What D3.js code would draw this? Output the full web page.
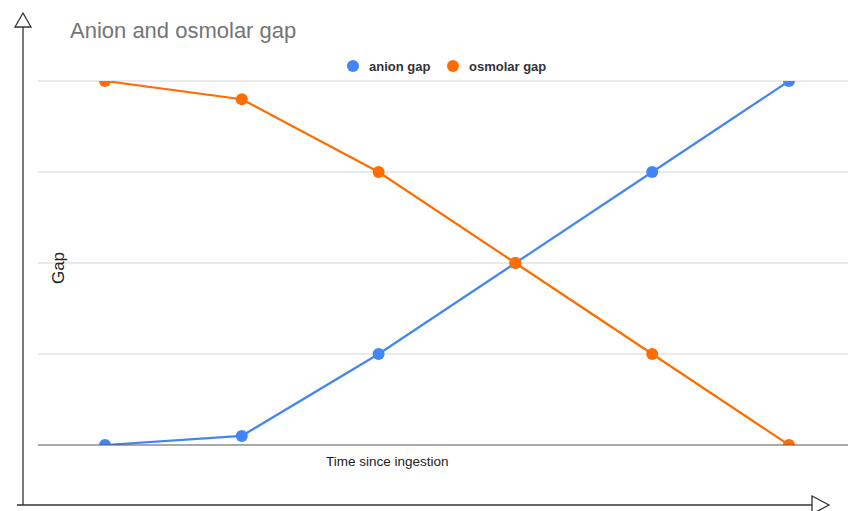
<!DOCTYPE html>
<html>
<head>
<meta charset="utf-8">
<script src="https://cdn.jsdelivr.net/npm/d3@7"></script>
<style>
  html, body { margin: 0; padding: 0; background: #fff; }
  svg { display: block; font-family: "Liberation Sans", Arial, sans-serif; }
</style>
</head>
<body>
<svg id="chart" width="848" height="511"></svg>
<script>
// Time points (unlabelled steps after ingestion)
const timePoints = [1, 2, 3, 4, 5, 6];
const anionGap = [0, 0.1, 1, 2, 3, 4];
const osmolarGap = [4, 3.8, 3, 2, 1, 0];
const gridValues = [0, 1, 2, 3, 4];
const seriesNames = ["anion gap", "osmolar gap"];
const seriesColors = ["#4285f4", "#ff6d01"];

const svg = d3.select("#chart");
const plot = { left: 38, right: 848, top: 81, bottom: 445 };

const x = d3.scalePoint().domain(timePoints).range([105, 789]);
const y = d3.scaleLinear().domain([0, 4]).range([plot.bottom, plot.top]);

// Gridlines
svg.append("g").selectAll("line")
  .data(gridValues.filter(v => v !== 0))
  .join("line")
  .attr("x1", plot.left).attr("x2", plot.right)
  .attr("y1", d => y(d)).attr("y2", d => y(d))
  .attr("stroke", "#d6d6d6").attr("stroke-width", 1);

// Clip series to the plotting area
svg.append("clipPath").attr("id", "plotClip")
  .append("rect")
  .attr("x", plot.left).attr("y", plot.top)
  .attr("width", plot.right - plot.left).attr("height", plot.bottom - plot.top);

const series = [anionGap, osmolarGap];
const line = d3.line().x((d, i) => x(timePoints[i])).y(d => y(d));
const g = svg.append("g").attr("clip-path", "url(#plotClip)");
series.forEach((vals, k) => {
  g.append("path").datum(vals)
    .attr("d", line).attr("fill", "none")
    .attr("stroke", seriesColors[k]).attr("stroke-width", 2.2);
  g.selectAll(null).data(vals).join("circle")
    .attr("cx", (d, i) => x(timePoints[i])).attr("cy", d => y(d))
    .attr("r", 6).attr("fill", seriesColors[k]);
});

// Baseline
svg.append("line")
  .attr("x1", plot.left).attr("x2", plot.right)
  .attr("y1", y(0)).attr("y2", y(0))
  .attr("stroke", "#555").attr("stroke-width", 1.2);

// Title
svg.append("text").attr("x", 70).attr("y", 38)
  .attr("font-size", 22).attr("fill", "#757575")
  .text("Anion and osmolar gap");

// Legend
const legend = svg.append("g");
const legendX = [353, 453];
seriesNames.forEach((name, k) => {
  legend.append("circle").attr("cx", legendX[k]).attr("cy", 66).attr("r", 6)
    .attr("fill", seriesColors[k]);
  legend.append("text").attr("x", legendX[k] + 16).attr("y", 70.5)
    .attr("font-size", 13).attr("font-weight", "bold").attr("fill", "#333")
    .text(name);
});

// Axis titles
svg.append("text").attr("x", 326).attr("y", 466)
  .attr("font-size", 13.5).attr("fill", "#222")
  .text("Time since ingestion");
svg.append("text")
  .attr("transform", "translate(64,268) rotate(-90)")
  .attr("text-anchor", "middle")
  .attr("font-size", 17).attr("fill", "#222")
  .text("Gap");

// Hand-drawn style axes with open arrowheads
const axisColor = "#333";
svg.append("line").attr("x1", 23).attr("x2", 23).attr("y1", 27).attr("y2", 505)
  .attr("stroke", axisColor).attr("stroke-width", 1.3);
svg.append("path").attr("d", "M23,13 L31,27 L15,27 Z")
  .attr("fill", "#fff").attr("stroke", axisColor).attr("stroke-width", 1.3);
svg.append("line").attr("x1", 17).attr("x2", 812).attr("y1", 505).attr("y2", 505)
  .attr("stroke", axisColor).attr("stroke-width", 1.3);
svg.append("path").attr("d", "M812,496 L829,505 L812,514 Z")
  .attr("fill", "#fff").attr("stroke", axisColor).attr("stroke-width", 1.3);
</script>
</body>
</html>
